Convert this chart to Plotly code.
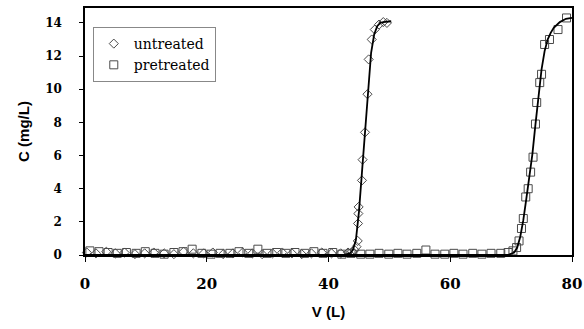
import plotly.graph_objects as go

# untreated (diamonds) measured points
unt_v = [0.3, 1.8, 3.5, 5.0, 6.5, 8.2, 9.8, 11.3, 13.0, 14.6, 16.2, 17.8, 19.5, 21.0,
         22.7, 24.3, 25.9, 27.5, 29.1, 30.8, 32.4, 34.0, 35.6, 37.2, 38.9, 40.5, 42.0,
         43.2, 43.9, 44.3, 44.6, 44.8, 44.85, 44.9, 44.95, 45.5, 45.6, 46.0, 46.4, 46.6,
         47.1, 47.6, 48.3, 49.0, 49.6]
unt_c = [0.15, 0.1, 0.2, 0.1, 0.15, 0.05, 0.1, 0.15, 0.1, 0.05, 0.2, 0.1, 0.1, 0.15,
         0.05, 0.1, 0.15, 0.1, 0.05, 0.1, 0.15, 0.1, 0.05, 0.1, 0.15, 0.1, 0.1,
         0.15, 0.2, 0.3, 0.5, 0.85, 1.9, 2.5, 2.9, 4.5, 5.75, 7.4, 9.7, 11.8,
         13.0, 13.6, 13.9, 14.05, 14.0]

# pretreated (squares) measured points
pre_v = [0.8, 2.3, 3.8, 5.3, 6.8, 8.4, 9.9, 11.5, 13.0, 14.6, 16.1, 17.6, 19.2, 20.7,
         22.2, 23.8, 25.3, 26.9, 28.4, 29.9, 31.5, 33.0, 34.5, 36.1, 37.6, 39.1, 40.7,
         42.2, 43.7, 45.3, 46.8, 48.3, 49.9, 51.4, 52.9, 54.5, 56.0, 57.5, 59.1, 60.6,
         62.1, 63.7, 65.2, 66.7, 68.3, 69.5, 70.3, 70.9, 71.3, 71.7, 72.0, 72.4, 72.8,
         73.2, 73.6, 74.0, 74.2, 74.7, 75.0, 75.5, 76.3, 77.7, 79.1]
pre_c = [0.25, 0.2, 0.15, 0.1, 0.15, 0.1, 0.2, 0.1, 0.05, 0.15, 0.2, 0.35, 0.1, 0.05,
         0.1, 0.1, 0.2, 0.1, 0.35, 0.1, 0.15, 0.1, 0.15, 0.1, 0.2, 0.1, 0.15,
         0.05, 0.1, 0.05, 0.05, 0.1, 0.05, 0.1, 0.05, 0.1, 0.3, 0.05, 0.05, 0.1,
         0.05, 0.1, 0.05, 0.1, 0.1, 0.15, 0.25, 0.45, 0.85, 1.6, 2.2, 3.5, 4.0,
         5.0, 5.9, 7.9, 9.2, 10.4, 10.9, 12.7, 13.0, 13.6, 14.3]

# fitted curves
unt_line_v = [0, 42.5, 43.5, 44.0, 44.5, 45.0, 45.5, 46.0, 46.5, 47.0, 47.5, 48.0, 48.5, 49.0, 50.3]
unt_line_c = [0, 0.0, 0.1, 0.3, 0.9, 2.6, 5.0, 7.6, 10.2, 12.2, 13.3, 13.8, 14.0, 14.05, 14.1]
pre_line_v = [0, 69.5, 70.5, 71.0, 71.5, 72.0, 72.5, 73.0, 73.5, 74.0, 74.5, 75.0, 75.5, 76.0,
              76.5, 77.0, 78.0, 79.0, 80.0]
pre_line_c = [0, 0.0, 0.15, 0.45, 1.1, 2.1, 3.4, 4.7, 6.1, 7.9, 9.7, 11.2, 12.3, 13.0,
              13.4, 13.7, 14.05, 14.25, 14.3]

x_ticks = [0, 20, 40, 60, 80]
y_ticks = [0, 2, 4, 6, 8, 10, 12, 14]

SERIF = "DejaVu Serif"
SANS = "Liberation Sans, Arial, sans-serif"
mk_col = "#4a4a4a"
fig = go.Figure()
fig.add_trace(go.Scatter(x=unt_v, y=unt_c, mode="markers", name="untreated",
                         marker=dict(symbol="diamond-open", size=7, color=mk_col,
                                     line=dict(width=1, color=mk_col)),
                         cliponaxis=False))
fig.add_trace(go.Scatter(x=pre_v, y=pre_c, mode="markers", name="pretreated",
                         marker=dict(symbol="square-open", size=8, color=mk_col,
                                     line=dict(width=1, color=mk_col)),
                         cliponaxis=False))
fig.add_trace(go.Scatter(x=unt_line_v, y=unt_line_c, mode="lines", showlegend=False,
                         line=dict(color="black", width=1.8)))
fig.add_trace(go.Scatter(x=pre_line_v, y=pre_line_c, mode="lines", showlegend=False,
                         line=dict(color="black", width=1.8)))

fig.update_layout(
    width=584, height=329,
    margin=dict(l=85, r=12, t=8, b=74, autoexpand=False),
    plot_bgcolor="white", paper_bgcolor="white",
    showlegend=True,
    legend=dict(x=0.016, y=0.923, xanchor="left", yanchor="top",
                bgcolor="white", bordercolor="#888", borderwidth=1,
                font=dict(family=SERIF, size=14, color="black"),
                itemwidth=30, tracegroupgap=0),
)
fig.update_xaxes(range=[0, 80], tickvals=x_ticks, ticks="outside", ticklen=5,
                 tickcolor="black", showline=True, linecolor="black", linewidth=1.5,
                 mirror=True, showgrid=False, zeroline=False, automargin=False,
                 tickfont=dict(family=SERIF, size=15, color="black", weight="bold"),
                 ticklabelstandoff=9,
                 title=dict(text="<b>V (L)</b>", font=dict(family=SANS, size=15, color="black"),
                            standoff=15))
fig.update_yaxes(range=[0, 14.9], tickvals=y_ticks, ticks="outside", ticklen=4,
                 tickcolor="black", showline=True, linecolor="black", linewidth=1.5,
                 mirror=True, showgrid=False, zeroline=False, automargin=False,
                 tickfont=dict(family=SERIF, size=12, color="black", weight="bold"),
                 ticklabelstandoff=15,
                 title=dict(text="<b>C (mg/L)</b>", font=dict(family=SANS, size=15, color="black"),
                            standoff=12))

fig.write_html("out.html")
